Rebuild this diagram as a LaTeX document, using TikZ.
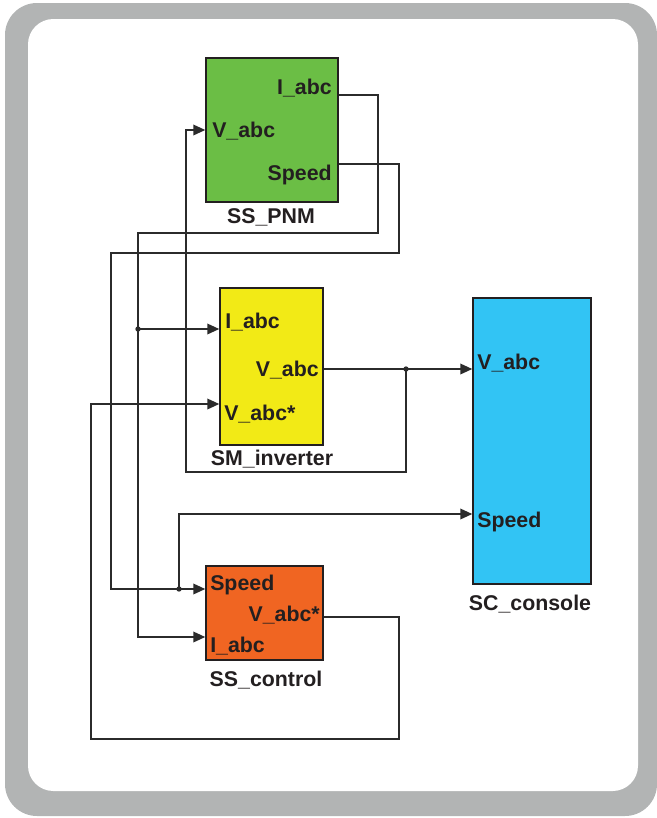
\documentclass[tikz,border=0pt]{standalone}
\usepackage{fontspec}
\setmainfont{Liberation Sans}
\usetikzlibrary{arrows.meta,fit,shadows}
\definecolor{framegray}{HTML}{B2B4B4}
\definecolor{pnmgreen}{HTML}{6BBE45}
\definecolor{invyellow}{HTML}{F2EA16}
\definecolor{ctrlorange}{HTML}{F06522}
\definecolor{consblue}{HTML}{32C4F4}
\definecolor{txt}{HTML}{231F20}
\definecolor{wirec}{HTML}{2B2B2B}
\begin{document}
\begin{tikzpicture}[x=0.75pt,y=-0.75pt,
  block/.style={draw=txt, line width=1.1pt, inner sep=0pt,
    drop shadow={shadow xshift=1pt, shadow yshift=-1pt, opacity=0.45}},
  lbl/.style={inner sep=0pt, font=\bfseries\fontsize{16}{18}\selectfont, text=txt},
  wire/.style={draw=wirec, line width=1.1pt},
  arr/.style={wire, -{Triangle[length=9pt,width=8pt]}},
  jdot/.style={circle, fill=wirec, inner sep=0pt, minimum size=4pt}]
\useasboundingbox (0,0) rectangle (657,818);
% frame
\fill[framegray, rounded corners=24pt] (5,3) rectangle (657,816);
\fill[white, rounded corners=19pt] (28,19) rectangle (638,791);

% blocks
\node[block, fill=pnmgreen, fit={(206,58)(338,202)}] (pnm) {};
\node[block, fill=invyellow, fit={(220,288)(323,445)}] (smi) {};
\node[block, fill=ctrlorange, fit={(206,566)(323,660)}] (ssc) {};
\node[block, fill=consblue, fit={(473,298)(591,584)}] (scc) {};

% block names
\node[lbl, anchor=base] (pnmname) at (271,223) {SS\_PNM};
\node[lbl, anchor=base] (sminame) at (272,465) {SM\_inverter};
\node[lbl, anchor=base] (sscname) at (266,686) {SS\_control};
\node[lbl, anchor=base] (sccname) at (530,610) {SC\_console};

% port labels
\node[lbl, anchor=base east] (pnmIl) at (332,94) {I\_abc};
\node[lbl, anchor=base west] (pnmVl) at (212,137) {V\_abc};
\node[lbl, anchor=base east] (pnmSl) at (332,180) {Speed};
\node[lbl, anchor=base west] (smiIl) at (225,328) {I\_abc};
\node[lbl, anchor=base east] (smiVl) at (319,376) {V\_abc};
\node[lbl, anchor=base west] (smiVsl) at (224,420) {V\_abc*};
\node[lbl, anchor=base west] (sscSl) at (210,590) {Speed};
\node[lbl, anchor=base east] (sscVl) at (320,621) {V\_abc*};
\node[lbl, anchor=base west] (sscIl) at (210,652) {I\_abc};
\node[lbl, anchor=base west] (sccVl) at (477,369) {V\_abc};
\node[lbl, anchor=base west] (sccSl) at (477,527) {Speed};

% port coordinates
\coordinate (pnmI) at (pnm.east |- 0,95);
\coordinate (pnmV) at (pnm.west |- 0,130);
\coordinate (pnmS) at (pnm.east |- 0,164);
\coordinate (smiI) at (smi.west |- 0,329);
\coordinate (smiV) at (smi.east |- 0,369);
\coordinate (smiVs) at (smi.west |- 0,404);
\coordinate (sscS) at (ssc.west |- 0,589);
\coordinate (sscV) at (ssc.east |- 0,617);
\coordinate (sscI) at (ssc.west |- 0,637);
\coordinate (sccV) at (scc.west |- 0,369);
\coordinate (sccS) at (scc.west |- 0,514);

% junctions
\coordinate (jI) at (138,329);
\coordinate (jS) at (179,589);
\coordinate (jV) at (406,369);

% wires
\draw[wire] (pnmI) -- (378,95) -- (378,233) -- (138,233) -- (jI);
\draw[arr] (jI) |- (sscI);
\draw[arr] (jI) -- (smiI);

\draw[arr] (pnmS) -- (399,164) -- (399,253) -- (111,253) |- (sscS);
\draw[arr] (jS) |- (sccS);

\draw[arr] (smiV) -- (sccV);
\draw[arr] (jV) -- (406,472) -- (186,472) |- (pnmV);

\draw[arr] (sscV) -- (399,617) -- (399,739) -- (91,739) |- (smiVs);

\node[jdot] at (jI) {};
\node[jdot] at (jS) {};
\node[jdot] at (jV) {};
\end{tikzpicture}
\end{document}
